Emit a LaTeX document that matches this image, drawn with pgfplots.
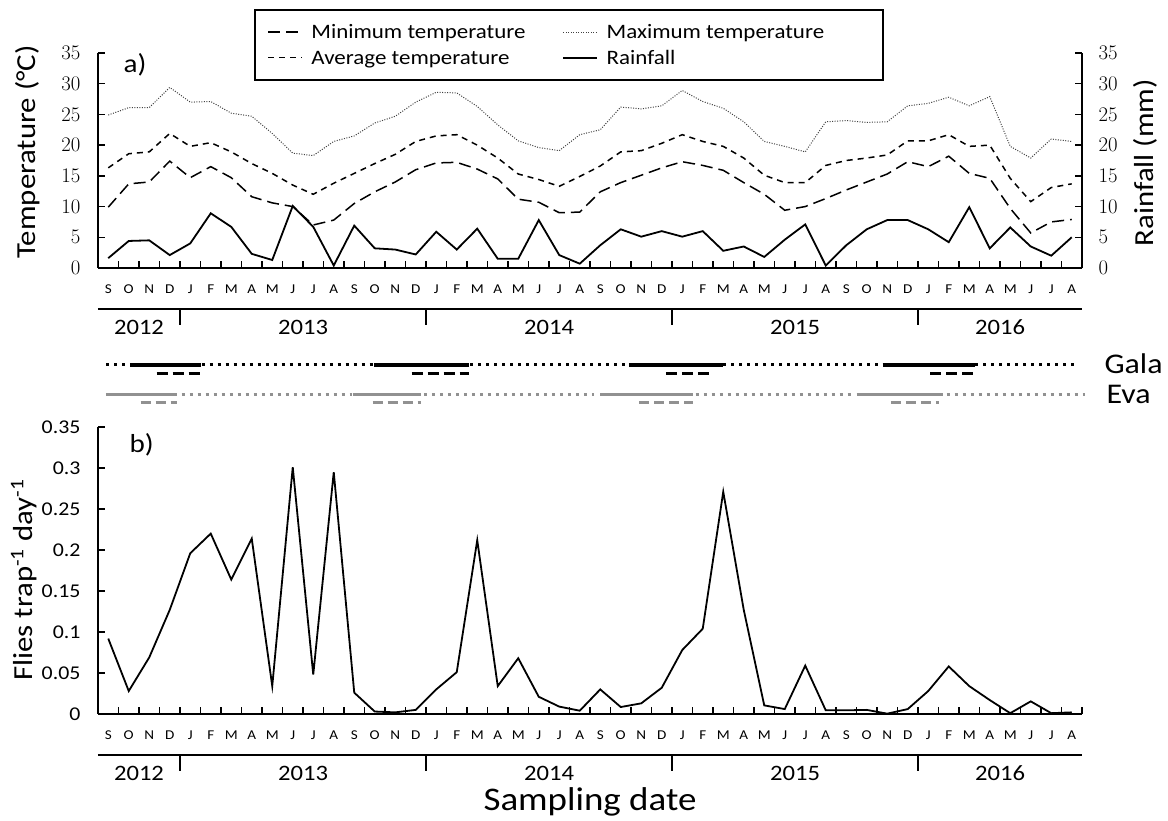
\documentclass[border=0pt]{standalone}
\usepackage{fontspec}
\setmainfont{Carlito}[FakeStretch=1.12]
\usepackage{pgfplots}
\usepackage{pgfplotstable}
\pgfplotsset{compat=1.18}

% monthly series, Sep 2012 (i=0) to Aug 2016 (i=47)
\pgfplotstableread{
i tmin tavg tmax rain flies
0  9.9 16.3 24.9 1.6 0.092
1  13.7 18.6 26.1 4.4 0.028
2  14.0 18.9 26.1 4.5 0.069
3  17.4 21.9 29.4 2.1 0.127
4  14.7 19.8 27.0 4.0 0.196
5  16.5 20.4 27.1 8.9 0.220
6  14.7 18.9 25.2 6.7 0.164
7  11.6 17.0 24.7 2.3 0.214
8  10.6 15.4 21.9 1.3 0.034
9  10.0 13.5 18.7 10.1 0.301
10 7.0 12.0 18.3 6.7 0.048
11 7.8 13.8 20.6 0.4 0.295
12 10.5 15.4 21.5 6.9 0.026
13 12.4 17.0 23.6 3.2 0.003
14 14.0 18.5 24.7 3.0 0.002
15 16.0 20.6 27.0 2.2 0.005
16 17.1 21.5 28.6 5.9 0.030
17 17.2 21.7 28.5 3.0 0.051
18 16.1 20.0 26.3 6.4 0.212
19 14.5 17.9 23.3 1.5 0.034
20 11.2 15.3 20.7 1.5 0.068
21 10.7 14.4 19.6 7.8 0.021
22 9.0 13.3 19.1 2.1 0.009
23 9.1 14.9 21.7 0.7 0.004
24 12.4 16.6 22.5 3.7 0.030
25 13.9 18.9 26.2 6.3 0.0085
26 15.1 19.1 25.9 5.1 0.013
27 16.3 20.3 26.4 6.0 0.032
28 17.3 21.7 28.9 5.1 0.078
29 16.7 20.6 27.1 6.0 0.104
30 15.9 19.8 26.0 2.8 0.271
31 13.9 17.9 23.8 3.5 0.127
32 12.0 15.1 20.6 1.8 0.0105
33 9.4 13.9 19.8 4.6 0.006
34 10.0 13.9 18.9 7.1 0.059
35 11.3 16.7 23.8 0.4 0.0045
36 12.7 17.5 24.0 3.7 0.0045
37 14.0 17.9 23.7 6.3 0.005
38 15.3 18.4 23.8 7.8 0.0004
39 17.3 20.7 26.4 7.8 0.006
40 16.5 20.7 26.8 6.3 0.028
41 18.2 21.7 27.8 4.2 0.058
42 15.4 19.8 26.4 9.9 0.034
43 14.6 20.0 27.9 3.2 0.017
44 9.7 14.6 19.8 6.6 0.001
45 5.7 10.8 17.9 3.5 0.0154
46 7.5 13.1 21.0 2.0 0.001
47 7.9 13.7 20.6 5.0 0.002
}\sitedata

\definecolor{evagray}{RGB}{145,145,145}

\pgfplotsset{
  monthaxis/.style={
    scale only axis, width=984pt,
    xmin=-0.5, xmax=47.5,
    axis x line=bottom, axis y line=left,
    axis line style={-, line width=2pt},
    xtick={0.5,1.5,...,47.5},
    xticklabels={S,O,N,D,J,F,M,A,M,J,J,A,S,O,N,D,J,F,M,A,M,J,J,A,S,O,N,D,J,F,M,A,M,J,J,A,S,O,N,D,J,F,M,A,M,J,J,A},
    x tick label style={font=\fontsize{13.5}{15}\selectfont, xshift=-10.25pt, yshift=-13.3pt},
    y tick label style={font=\fontsize{19.5}{21}\selectfont, xshift=-14pt},
    tick align=inside, major tick length=7pt,
    tick style={black, line width=1.5pt},
    clip=false,
  },
}
% legend cell: strut, gap after the sample, fixed width
\newcommand{\lgs}[2]{\rule[-7pt]{0pt}{22pt}\hspace*{6.5pt}\makebox[#1][l]{#2}}
\newcommand{\yearrow}{%
  \draw[line width=1.8pt] ([yshift=-41pt]axis cs:-0.5,0) -- ([yshift=-41pt]axis cs:47.5,0);
  \draw[line width=1.8pt] ([yshift=-41pt]axis cs:3.5,0) -- ([yshift=-57pt]axis cs:3.5,0);
  \draw[line width=1.8pt] ([yshift=-41pt]axis cs:15.5,0) -- ([yshift=-57pt]axis cs:15.5,0);
  \draw[line width=1.8pt] ([yshift=-41pt]axis cs:27.5,0) -- ([yshift=-57pt]axis cs:27.5,0);
  \draw[line width=1.8pt] ([yshift=-41pt]axis cs:39.5,0) -- ([yshift=-57pt]axis cs:39.5,0);
  \node[inner sep=0pt, font=\fontsize{22}{24}\selectfont] at ([yshift=-59pt]axis cs:1.5,0) {2012};
  \node[inner sep=0pt, font=\fontsize{22}{24}\selectfont] at ([yshift=-59pt]axis cs:9.5,0) {2013};
  \node[inner sep=0pt, font=\fontsize{22}{24}\selectfont] at ([yshift=-59pt]axis cs:21.5,0) {2014};
  \node[inner sep=0pt, font=\fontsize{22}{24}\selectfont] at ([yshift=-59pt]axis cs:33.5,0) {2015};
  \node[inner sep=0pt, font=\fontsize{22}{24}\selectfont] at ([yshift=-59pt]axis cs:43.5,0) {2016};
}

\begin{document}
\begin{tikzpicture}
\useasboundingbox (0,0) rectangle (1168pt,821pt);

% a) temperatures
\begin{axis}[monthaxis, at={(98pt,553pt)}, anchor=south west, height=215pt,
  ymin=0, ymax=35, ytick={0,5,...,35},
  ylabel={Temperature (°C)},
  ylabel style={font=\fontsize{27.5}{30}\selectfont, at={(axis description cs:-0.0711,0.54)}, anchor=center},
  legend columns=2,
  legend style={at={(axis description cs:0.4787,1.0372)}, anchor=center, draw=none, fill=none,
    font=\fontsize{20.5}{24}\selectfont, inner sep=0pt, row sep=5pt,
    /tikz/every even column/.append style={column sep=6pt}, cells={anchor=west}},
  legend image code/.code={\draw[#1] (0pt,0pt) -- (34pt,0pt);},
  unbounded coords=jump]
\addplot[black, line width=1.5pt, dash pattern=on 12pt off 6pt] table[x=i,y=tmin]{\sitedata};
\addlegendentry{\lgs{243pt}{Minimum temperature}}
\addplot[black!75, line width=1pt, dash pattern=on 1pt off 1.5pt] table[x=i,y=tmax]{\sitedata};
\addlegendentry{\lgs{262pt}{Maximum temperature}}
\addplot[black, line width=1.5pt, dash pattern=on 6pt off 5pt] table[x=i,y=tavg]{\sitedata};
\addlegendentry{\lgs{243pt}{Average temperature}}
\addlegendimage{black, line width=1.8pt}
\addlegendentry{\lgs{262pt}{Rainfall}}
% periods marked for the two cultivars
\addplot[forget plot, black, line width=3pt, dash pattern=on 3pt off 5pt] coordinates
  {(-0.1,-15.79)(0.9,-15.79)(0.9,nan)(4.55,-15.79)(12.9,-15.79)(12.9,nan)(17.65,-15.79)(25.3,-15.79)(25.3,nan)
   (30.0,-15.79)(37.75,-15.79)(37.75,nan)(42.3,-15.79)(47.3,-15.79)};
\addplot[forget plot, black, line width=3.5pt] coordinates
  {(1.06,-15.79)(4.52,-15.79)(4.52,nan)(12.98,-15.79)(17.6,-15.79)(17.6,nan)(25.4,-15.79)(29.97,-15.79)(29.97,nan)
   (37.78,-15.79)(42.28,-15.79)};
\addplot[forget plot, black, line width=3pt, dash pattern=on 11pt off 5pt] coordinates
  {(2.36,-17.21)(4.48,-17.21)(4.48,nan)(14.8,-17.21)(17.6,-17.21)(17.6,nan)(27.2,-17.21)(29.35,-17.21)(29.35,nan)
   (40.1,-17.21)(42.2,-17.21)};
\addplot[forget plot, evagray, line width=3pt] coordinates
  {(-0.11,-20.56)(3.37,-20.56)(3.37,nan)(11.92,-20.56)(15.26,-20.56)(15.26,nan)(24.0,-20.56)(28.54,-20.56)(28.54,nan)
   (36.5,-20.56)(40.74,-20.56)};
\addplot[forget plot, evagray, line width=3pt, dash pattern=on 3pt off 5pt] coordinates
  {(3.58,-20.56)(11.88,-20.56)(11.88,nan)(15.4,-20.56)(23.7,-20.56)(23.7,nan)(28.65,-20.56)(36.35,-20.56)(36.35,nan)
   (40.9,-20.56)(47.65,-20.56)};
\addplot[forget plot, evagray, line width=3pt, dash pattern=on 10pt off 5pt] coordinates
  {(1.58,-21.93)(3.37,-21.93)(3.37,nan)(12.9,-21.93)(15.26,-21.93)(15.26,nan)(25.9,-21.93)(28.54,-21.93)(28.54,nan)
   (38.18,-21.93)(40.52,-21.93)};
\node[anchor=west, font=\fontsize{28.5}{30}\selectfont] at ([xshift=19pt]axis cs:47.5,-15.6) {Gala};
\node[anchor=west, font=\fontsize{28.5}{30}\selectfont] at ([xshift=21pt]axis cs:47.5,-20.56) {Eva};
\node[anchor=west, font=\fontsize{26}{28}\selectfont] at (axis description cs:0.0224,0.944) {a)};
\yearrow
\end{axis}

% a) rainfall, right axis
\begin{axis}[scale only axis, width=984pt, height=215pt, at={(98pt,553pt)}, anchor=south west,
  xmin=-0.5, xmax=47.5, ymin=0, ymax=35, ytick={0,5,...,35},
  axis x line=none, axis y line=right, axis line style={-, line width=2pt},
  tick align=inside, major tick length=7pt, tick style={black, line width=1.5pt},
  y tick label style={font=\fontsize{19.5}{21}\selectfont, xshift=13pt},
  ylabel={Rainfall (mm)},
  ylabel style={font=\fontsize{27.5}{30}\selectfont, at={(axis description cs:1.064,0.49)}, anchor=center}]
\addplot[black, line width=1.8pt] table[x=i,y=rain]{\sitedata};
\end{axis}

% legend frame
\draw[line width=1.5pt] (255pt,741pt) rectangle (883pt,811pt);

% b) flies
\begin{axis}[monthaxis, at={(98pt,107pt)}, anchor=south west, height=287pt,
  ymin=0, ymax=0.35, ytick={0,0.05,0.1,0.15,0.2,0.25,0.3,0.35},
  yticklabels={0,0.05,0.1,0.15,0.2,0.25,0.3,0.35},
  ylabel={Flies trap\textsuperscript{-1} day\textsuperscript{-1}},
  ylabel style={font=\fontsize{27.5}{30}\selectfont, at={(axis description cs:-0.0752,0.467)}, anchor=center},
  xlabel={Sampling date},
  xlabel style={inner sep=0pt, font=\fontsize{33}{36}\selectfont, at={(axis description cs:0.5,-0.307)}, anchor=center}]
\addplot[black, line width=1.8pt] table[x=i,y=flies]{\sitedata};
\node[anchor=west, font=\fontsize{26}{28}\selectfont] at (axis description cs:0.0285,0.937) {b)};
\yearrow
\end{axis}
\end{tikzpicture}
\end{document}
